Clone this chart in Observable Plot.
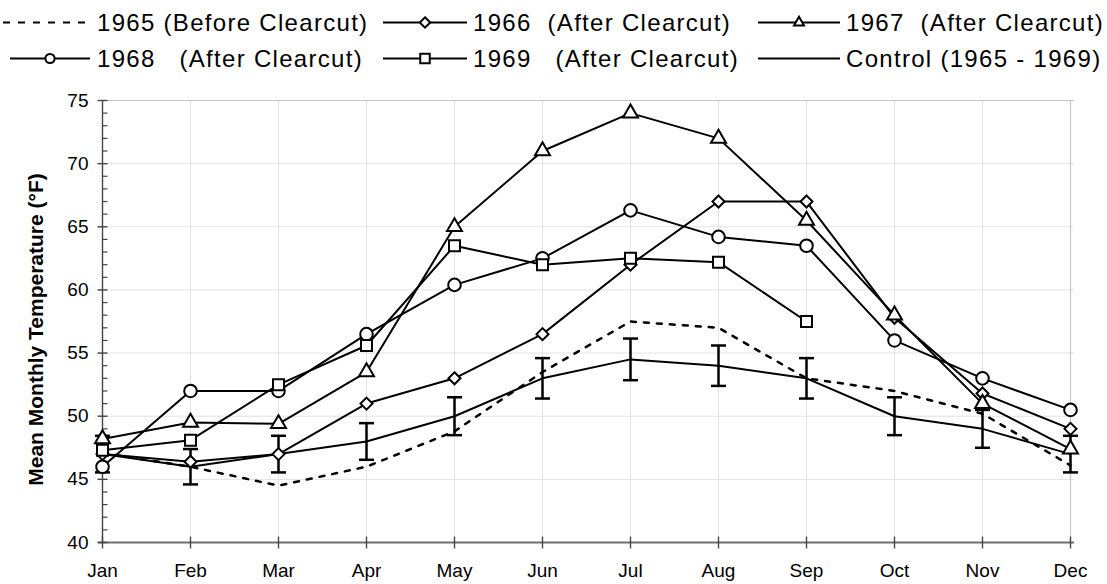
<!DOCTYPE html>
<html><head><meta charset="utf-8">
<script src="https://cdn.jsdelivr.net/npm/d3@7"></script>
<script src="https://cdn.jsdelivr.net/npm/@observablehq/plot@0.6"></script>
<style>
body{margin:0;background:#fff;font-family:Arial,"Liberation Sans",sans-serif;}
svg{display:block}
</style></head><body>
<div id="legend"></div>
<div id="chart"></div>
<script>
const months = ["Jan","Feb","Mar","Apr","May","Jun","Jul","Aug","Sep","Oct","Nov","Dec"];
const y1965 = [47.1, 46.0, 44.5, 46.0, 48.8, 53.5, 57.5, 57.0, 53.0, 52.0, 50.2, 46.1];
const y1966 = [47.0, 46.4, 47.0, 51.0, 53.0, 56.5, 62.0, 67.0, 67.0, 57.8, 51.8, 49.0];
const y1967 = [48.2, 49.5, 49.4, 53.5, 65.0, 71.0, 74.0, 72.0, 65.5, 58.0, 51.0, 47.4];
const y1968 = [46.0, 52.0, 52.0, 56.5, 60.4, 62.5, 66.3, 64.2, 63.5, 56.0, 53.0, 50.5];
const y1969 = [47.3, 48.1, 52.5, 55.6, 63.5, 62.0, 62.5, 62.2, 57.5];
const control = [47.0, 46.0, 47.0, 48.0, 50.0, 53.0, 54.5, 54.0, 53.0, 50.0, 49.0, 47.0];
const controlErr = [1.45, 1.4, 1.45, 1.45, 1.5, 1.6, 1.65, 1.6, 1.6, 1.5, 1.5, 1.45];
const legendLabels = ["1965 (Before Clearcut)", "1966  (After Clearcut)", "1967  (After Clearcut)",
                      "1968   (After Clearcut)", "1969   (After Clearcut)", "Control (1965 - 1969)"];
const yTitle = "Mean Monthly Temperature (°F)";
const yMajorTicks = d3.range(40, 76, 5);
const yMinorTicks = d3.range(40, 76, 1).filter(v => v % 5 !== 0);

// custom marker shapes
const circleSym = r => ({draw(c){c.moveTo(r,0);c.arc(0,0,r,0,2*Math.PI);c.closePath();}});
const diamondSym = h => ({draw(c){c.moveTo(0,-h);c.lineTo(h,0);c.lineTo(0,h);c.lineTo(-h,0);c.closePath();}});
const squareSym = s => ({draw(c){c.rect(-s/2,-s/2,s,s);}});
const triSym = w => ({draw(c){const h=w*Math.sqrt(3)/2;c.moveTo(0,-2*h/3);c.lineTo(w/2,h/3);c.lineTo(-w/2,h/3);c.closePath();}});
const hline = (a,b) => ({draw(c){c.moveTo(a,0);c.lineTo(b,0);}});
const vline = (a,b) => ({draw(c){c.moveTo(0,a);c.lineTo(0,b);}});

// ---------- legend ----------
const W = 1107;
const leg = d3.select("#legend").append("svg").attr("width", W).attr("height", 80)
  .style("font-family", 'Arial,"Liberation Sans",sans-serif');
const legItems = [
  {label: legendLabels[0], x0: 3,   x1: 92,  tx: 97,  row: 0, dash: "7,8", sym: null},
  {label: legendLabels[1], x0: 383, x1: 467, tx: 473, row: 0, sym: diamondSym(5.2)},
  {label: legendLabels[2], x0: 758, x1: 840, tx: 846, row: 0, sym: triSym(10)},
  {label: legendLabels[3], x0: 10,  x1: 90,  tx: 97,  row: 1, sym: circleSym(4.6)},
  {label: legendLabels[4], x0: 383, x1: 467, tx: 473, row: 1, sym: squareSym(9.5)},
  {label: legendLabels[5], x0: 758, x1: 840, tx: 846, row: 1, sym: null}
];
legItems.forEach(it => {
  const ly = it.row === 0 ? 22.5 : 58.5;
  const g = leg.append("g");
  g.append("line").attr("x1", it.x0).attr("x2", it.x1).attr("y1", ly).attr("y2", ly)
    .attr("stroke", "#000").attr("stroke-width", 2.2)
    .attr("stroke-dasharray", it.dash || null);
  if (it.sym) {
    g.append("path").attr("d", d3.symbol(it.sym)()).attr("transform", `translate(${(it.x0+it.x1)/2},${ly})`)
      .attr("fill", "#fff").attr("stroke", "#000").attr("stroke-width", 2);
  }
  g.append("text").attr("x", it.tx).attr("y", ly + 8.3).text(it.label)
    .attr("font-size", 24).attr("letter-spacing", "1.3px")
    .style("white-space", "pre").attr("fill", "#000");
});

// ---------- chart ----------
const rows = months.map((m, i) => ({
  month: m, y1965: y1965[i], y1966: y1966[i], y1967: y1967[i], y1968: y1968[i],
  y1969: i < y1969.length ? y1969[i] : null, control: control[i], err: controlErr[i]
}));
const rows69 = rows.filter(d => d.y1969 != null);

const seriesMarks = (data, key, sym) => [
  Plot.line(data, {x: "month", y: key, stroke: "#000", strokeWidth: 2}),
  Plot.dot(data, {x: "month", y: key, symbol: sym, fill: "#fff", stroke: "#000", strokeWidth: 2})
];

const chart = Plot.plot({
  width: W,
  height: 504,
  marginTop: 20,
  marginBottom: 42,
  marginLeft: 98,
  marginRight: 33,
  style: {fontFamily: 'Arial,"Liberation Sans",sans-serif', color: "#000", background: "#fff"},
  x: {type: "point", domain: months, padding: 0},
  y: {domain: [40, 75]},
  marks: [
    Plot.ruleY(yMajorTicks.filter(v => v > 40 && v < 75), {stroke: "#e2e2e2", strokeWidth: 1}),
    Plot.ruleX(months.slice(1, 11), {stroke: "#e2e2e2", strokeWidth: 1}),
    Plot.ruleY([75], {stroke: "#c6c6c6", strokeWidth: 1.2}),
    Plot.ruleX(["Dec"], {stroke: "#c6c6c6", strokeWidth: 1.2}),
    Plot.ruleY([40], {stroke: "#6e6e6e", strokeWidth: 2}),
    Plot.ruleX(["Jan"], {stroke: "#454545", strokeWidth: 1.4}),
    Plot.dot(yMajorTicks, {x: () => "Jan", y: d => d, symbol: hline(-5, 5), fill: "none", stroke: "#454545", strokeWidth: 1.4}),
    Plot.dot(yMinorTicks, {x: () => "Jan", y: d => d, symbol: hline(0, 5), fill: "none", stroke: "#454545", strokeWidth: 1.2}),
    Plot.dot(months, {x: d => d, y: () => 40, symbol: vline(-6, 6), fill: "none", stroke: "#454545", strokeWidth: 1.4}),
    Plot.axisY({ticks: yMajorTicks, tickSize: 0, tickPadding: 10, fontSize: 19, label: null, style: {letterSpacing: "0.6px"}}),
    Plot.axisX({tickSize: 0, tickPadding: 21, fontSize: 19, label: null, style: {letterSpacing: "0.8px"}}),
    Plot.text([yTitle], {frameAnchor: "left", textAnchor: "middle", dx: -62, dy: 8, rotate: -90, fontWeight: "bold", fontSize: 21, fill: "#000"}),
    // control with error bars
    Plot.line(rows, {x: "month", y: "control", stroke: "#000", strokeWidth: 2}),
    Plot.ruleX(rows, {x: "month", y1: d => d.control - d.err, y2: d => d.control + d.err, stroke: "#000", strokeWidth: 2.5}),
    Plot.dot(rows, {x: "month", y: d => d.control - d.err, symbol: hline(-7.5, 7.5), fill: "none", stroke: "#000", strokeWidth: 2.5}),
    Plot.dot(rows, {x: "month", y: d => d.control + d.err, symbol: hline(-7.5, 7.5), fill: "none", stroke: "#000", strokeWidth: 2.5}),
    // 1965 dotted
    Plot.line(rows, {x: "month", y: "y1965", stroke: "#000", strokeWidth: 2.5, strokeDasharray: "5,8"}),
    ...seriesMarks(rows, "y1966", diamondSym(6)),
    ...seriesMarks(rows, "y1967", triSym(15)),
    ...seriesMarks(rows, "y1968", circleSym(6.3)),
    ...seriesMarks(rows69, "y1969", squareSym(11))
  ]
});
document.getElementById("chart").appendChild(chart);
</script>
</body></html>
